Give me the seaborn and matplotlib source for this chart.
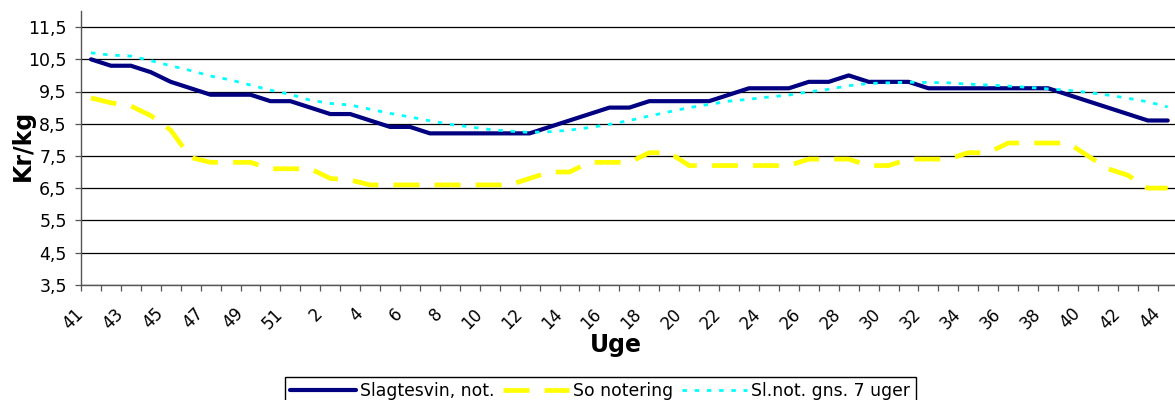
import numpy as np
import matplotlib.pyplot as plt
import matplotlib.transforms as mtransforms
from matplotlib.lines import Line2D
from matplotlib.ticker import FuncFormatter
import seaborn as sns

# ugenumre (uge 1 mangler i serien)
weeks = list(range(41, 53)) + list(range(2, 45))

# Slagtesvin, notering (kr/kg)
slagtesvin = [10.5, 10.3, 10.3, 10.1, 9.8, 9.6, 9.4, 9.4, 9.4, 9.2, 9.2, 9.0, 8.8, 8.8,
              8.6, 8.4, 8.4, 8.2, 8.2, 8.2, 8.2, 8.2, 8.2, 8.4, 8.6, 8.8, 9.0, 9.0,
              9.2, 9.2, 9.2, 9.2, 9.4, 9.6, 9.6, 9.6, 9.8, 9.8, 10.0, 9.8, 9.8, 9.8,
              9.6, 9.6, 9.6, 9.6, 9.6, 9.6, 9.6, 9.4, 9.2, 9.0, 8.8, 8.6, 8.6]

# So notering (kr/kg)
so_notering = [9.3, 9.15, 9.05, 8.75, 8.3, 7.45, 7.3, 7.3, 7.3, 7.1, 7.1, 7.1, 6.8, 6.75,
               6.6, 6.6, 6.6, 6.6, 6.6, 6.6, 6.6, 6.6, 6.8, 7.0, 7.0, 7.3, 7.3, 7.3,
               7.6, 7.6, 7.2, 7.2, 7.2, 7.2, 7.2, 7.2, 7.4, 7.4, 7.4, 7.2, 7.2, 7.4,
               7.4, 7.4, 7.6, 7.6, 7.9, 7.9, 7.9, 7.9, 7.5, 7.1, 6.9, 6.5, 6.5]

# Sl.not. gennemsnit 7 uger
gns_7_uger = [10.7, 10.63, 10.6, 10.46, 10.3, 10.15, 9.98, 9.86, 9.7, 9.54, 9.41, 9.23,
              9.13, 9.08, 8.95, 8.82, 8.71, 8.59, 8.48, 8.4, 8.32, 8.27, 8.23, 8.25,
              8.3, 8.38, 8.48, 8.6, 8.74, 8.87, 9.0, 9.1, 9.2, 9.26, 9.33, 9.39, 9.49,
              9.57, 9.68, 9.75, 9.77, 9.79, 9.78, 9.77, 9.73, 9.7, 9.67, 9.63, 9.58,
              9.54, 9.47, 9.39, 9.29, 9.18, 9.02]

labels = ["Slagtesvin, not.", "So notering", "Sl.not. gns. 7 uger"]

sns.set_theme(style="white")
plt.rcParams['font.family'] = ['DejaVu Sans']
plt.rcParams['text.color'] = 'black'
plt.rcParams['axes.labelcolor'] = 'black'

x = np.arange(len(weeks))

fig = plt.figure(figsize=(11.75, 4.0), dpi=100)
ax = fig.add_axes([81 / 1175, 1 - 284.7 / 400, (1177.7 - 81) / 1175, (284.7 - 11) / 400])

navy = dict(color='#000080', lw=3.0, solid_capstyle='round', solid_joinstyle='round')
yellow = dict(color='#FFFF00', lw=3.4, linestyle=(0, (5.5, 3.2)))
cyan = dict(color='#00FFFF', lw=2.0, linestyle=(0, (1.6, 2.8)))

sns.lineplot(x=x, y=slagtesvin, ax=ax, **navy)
sns.lineplot(x=x, y=so_notering, ax=ax, **yellow)
sns.lineplot(x=x, y=gns_7_uger, ax=ax, **cyan)

ax.set_xlim(-0.5, len(weeks) - 0.5)
ax.set_ylim(3.5, 12.0)
ax.set_yticks(np.arange(3.5, 12.0, 1.0))
ax.yaxis.set_major_formatter(FuncFormatter(lambda v, p: f"{v:.1f}".replace('.', ',')))
ax.yaxis.grid(True, color='black', lw=0.9)
ax.set_axisbelow(True)

ax.set_xticks(x[::2])
ax.set_xticklabels([str(w) for w in weeks[::2]], rotation=45, ha='right', va='center',
                   rotation_mode='anchor')
ax.set_xticks(np.arange(-0.5, len(weeks), 1.0), minor=True)
ax.tick_params(axis='x', which='major', length=0, pad=19, labelsize=12, labelcolor='black')
ax.tick_params(axis='x', which='minor', bottom=True, length=4.3, width=0.9, color='#555555')
ax.tick_params(axis='y', left=True, length=4.3, width=0.9, color='#555555', pad=6,
               labelsize=12.5, labelcolor='black')

offset = mtransforms.ScaledTranslation(-10.4 / 100, 0, fig.dpi_scale_trans)
for lab in ax.get_xticklabels():
    lab.set_transform(lab.get_transform() + offset)

for side in ['top', 'right']:
    ax.spines[side].set_visible(False)
for side in ['left', 'bottom']:
    ax.spines[side].set_color('#555555')
    ax.spines[side].set_linewidth(1.0)

ax.set_xlabel("Uge", fontsize=17, fontweight='bold', va='center')
ax.xaxis.set_label_coords(0.488, -0.22)
ax.set_ylabel("Kr/kg", fontsize=17, fontweight='bold', va='center')
ax.yaxis.set_label_coords(-0.053, 0.51)

handles = [Line2D([], [], **navy), Line2D([], [], **yellow), Line2D([], [], **cyan)]
leg = fig.legend(handles, labels, loc='upper center', bbox_to_anchor=(0.511, 1 - 377 / 400),
                 ncol=3, fontsize=12.4, frameon=True, fancybox=False, framealpha=1,
                 edgecolor='black', handlelength=3.8, handletextpad=0.25,
                 columnspacing=0.5, borderpad=0.3, borderaxespad=0)
leg.get_frame().set_linewidth(1.0)

fig.savefig("out.png", dpi=100)
